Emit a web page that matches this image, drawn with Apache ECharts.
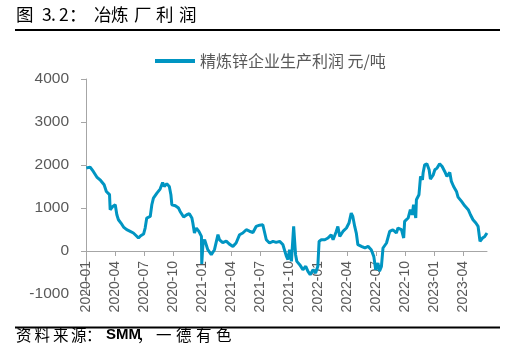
<!DOCTYPE html>
<html>
<head>
<meta charset="utf-8">
<script src="https://cdn.jsdelivr.net/npm/echarts@6/dist/echarts.min.js"></script>
<style>html,body{margin:0;padding:0;background:#fff;}#c{width:507px;height:359px;}</style>
</head>
<body>
<div id="c"></div>
<script>
const seriesName = '精炼锌企业生产利润 元/吨';
const sampleDates = [
'2020-01-02','2020-01-14','2020-01-24','2020-02-04','2020-02-16','2020-02-27','2020-03-05','2020-03-15','2020-03-17','2020-03-25',
'2020-04-02','2020-04-07','2020-04-12','2020-04-20','2020-04-28','2020-05-08','2020-05-19','2020-05-29','2020-06-07','2020-06-14',
'2020-06-21','2020-06-30','2020-07-05','2020-07-10','2020-07-21','2020-07-26','2020-07-31','2020-08-11','2020-08-21','2020-08-29',
'2020-09-03','2020-09-11','2020-09-19','2020-09-24','2020-09-27','2020-10-08','2020-10-18','2020-10-23','2020-11-03','2020-11-13',
'2020-11-21','2020-11-29','2020-12-02','2020-12-07','2020-12-13','2020-12-21','2020-12-29','2020-12-30','2021-01-03','2021-01-08',
'2021-01-18','2021-01-29','2021-02-08','2021-02-19','2021-02-24','2021-03-06','2021-03-17','2021-03-27','2021-04-07','2021-04-17',
'2021-04-28','2021-05-08','2021-05-19','2021-05-29','2021-06-09','2021-06-19','2021-06-30','2021-07-10','2021-07-16','2021-07-21',
'2021-07-31','2021-08-11','2021-08-21','2021-09-01','2021-09-11','2021-09-22','2021-09-27','2021-10-02','2021-10-08','2021-10-15',
'2021-10-21','2021-10-25','2021-11-03','2021-11-13','2021-11-22','2021-11-29','2021-12-06','2021-12-15','2021-12-23','2021-12-30',
'2022-01-03','2022-01-10','2022-01-21','2022-01-31','2022-02-10','2022-02-16','2022-02-26','2022-03-03','2022-03-09','2022-03-19',
'2022-03-30','2022-04-07','2022-04-14','2022-04-19','2022-04-25','2022-04-30','2022-05-05','2022-05-16','2022-05-27','2022-06-06',
'2022-06-16','2022-06-24','2022-06-30','2022-07-07','2022-07-12','2022-07-18','2022-07-23','2022-08-03','2022-08-13','2022-08-23',
'2022-09-03','2022-09-08','2022-09-19','2022-09-26','2022-09-29','2022-10-10','2022-10-17','2022-10-23','2022-10-27','2022-11-03',
'2022-11-05','2022-11-13','2022-11-18','2022-11-24','2022-11-26','2022-12-01','2022-12-08','2022-12-15','2022-12-19','2022-12-28',
'2023-01-02','2023-01-09','2023-01-17','2023-01-25','2023-02-02','2023-02-09','2023-02-18','2023-02-23','2023-03-02','2023-03-11',
'2023-03-16','2023-03-27','2023-04-06','2023-04-17','2023-04-24','2023-05-02','2023-05-11','2023-05-18','2023-05-24','2023-06-01',
'2023-06-08','2023-06-15'
];
const profit = [
1930,1950,1850,1720,1640,1540,1385,1310,960,1035,
1075,843,727,650,557,495,455,418,355,302,
355,395,534,767,804,1075,1231,1347,1440,1594,
1500,1563,1500,1308,1075,1052,999,920,790,843,
866,767,650,418,534,455,339,-300,186,262,
30,-86,30,380,260,193,230,160,107,186,
379,418,495,460,430,571,600,611,590,262,
186,224,200,224,150,-120,-200,30,-241,571,
-86,-241,-318,-434,-357,-473,-550,-434,-511,-357,
224,262,262,302,379,262,455,571,339,455,
534,650,883,804,571,418,147,107,70,107,
30,-125,-434,-280,-473,-357,70,186,455,495,
418,534,495,302,688,767,960,843,1075,767,
1192,1308,1733,1656,1812,2005,2028,1889,1673,1772,
1889,1928,2028,1966,1850,1733,1826,1617,1500,1385,
1254,1153,1052,960,843,727,650,571,224,302,
339,418
];
const yTicks = [-1000, 0, 1000, 2000, 3000, 4000];
const quarterMonths = ['01','04','07','10'];

// daily category axis
const startDate = '2020-01-01', endDate = '2023-06-15';
const categories = [];
(function(){
  let t = Date.parse(startDate + 'T00:00:00Z');
  const e = Date.parse(endDate + 'T00:00:00Z');
  while (t <= e) { categories.push(new Date(t).toISOString().slice(0,10)); t += 86400000; }
})();
const valueByDate = {};
sampleDates.forEach((d,i)=>{ valueByDate[d] = profit[i]; });
const lineData = categories.map(d => (d in valueByDate) ? valueByDate[d] : null);

const isQuarterStart = (idx, val) => val.slice(8) === '01' && quarterMonths.indexOf(val.slice(5,7)) >= 0;

const titleGlyphs = [['图',16],['3',42],['.',51],['2',59],['：',69],['冶',94],['炼',111],['厂',134],['利',156],['润',179]];
const footGlyphs = [['资',16,0],['料',34.5,0],['来',53,0],['源',71,0],['：',86,0],['SMM',106,1],['，',137,0],['一',156,0],['德',176,0],['有',196,0],['色',216,0]];

const graphics = [];
titleGlyphs.forEach(g => graphics.push({type:'text', left:g[1], top:6, style:{text:g[0], fill:'#000', font:'17.5px "Noto Sans CJK SC"'}}));
graphics.push({type:'line', shape:{x1:15,y1:30,x2:500,y2:30}, style:{stroke:'#000', lineWidth:2}});
graphics.push({type:'line', shape:{x1:15,y1:327.5,x2:500,y2:327.5}, style:{stroke:'#000', lineWidth:2}});
footGlyphs.forEach(g => graphics.push({type:'text', left:g[1], top:327, style:{text:g[0], fill:'#000', font: g[2] ? 'bold 15px "Liberation Sans"' : '15.5px "Noto Sans CJK SC"'}}));

const gridTop = 79, gridBottom = 65, chartH = 359;
const zeroOffset = -(chartH - gridTop - gridBottom) * (0 - yTicks[0]) / (yTicks[yTicks.length-1] - yTicks[0]);

const chart = echarts.init(document.getElementById('c'), null, {renderer:'canvas'});
chart.setOption({
  animation:false,
  backgroundColor:'#fff',
  graphic: graphics,
  legend: {
    data:[seriesName], left:150, top:48, itemWidth:40, itemHeight:4, icon:'rect',
    textStyle:{color:'#595959', fontSize:16, fontFamily:'"Noto Sans CJK SC"'}
  },
  grid: {left:86, right:20, top:gridTop, bottom:gridBottom},
  xAxis: {
    type:'category', data:categories, boundaryGap:false, position:'bottom', offset: zeroOffset,
    axisLine:{onZero:false, lineStyle:{color:'#a6a6a6', width:1}},
    axisTick:{show:true, interval:isQuarterStart, length:5, lineStyle:{color:'#a6a6a6'}},
    axisLabel:{interval:isQuarterStart, rotate:90, margin:10, color:'#595959', fontSize:14, fontFamily:'"Liberation Sans"', formatter: v => v.slice(0,7)},
    splitLine:{show:false}
  },
  yAxis: {
    type:'value', min:yTicks[0], max:yTicks[yTicks.length-1], interval:1000,
    axisLine:{show:true, lineStyle:{color:'#a6a6a6'}},
    axisTick:{show:true, length:5, lineStyle:{color:'#a6a6a6'}},
    axisLabel:{color:'#595959', fontSize:15.5, margin:17, fontFamily:'"Liberation Sans"', formatter: v => String(v)},
    splitLine:{show:false}
  },
  series: [{
    name:seriesName, type:'line', data:lineData, connectNulls:true, showSymbol:false,
    lineStyle:{color:'#0095c2', width:3}, itemStyle:{color:'#0095c2'}
  }]
});
</script>
</body>
</html>
